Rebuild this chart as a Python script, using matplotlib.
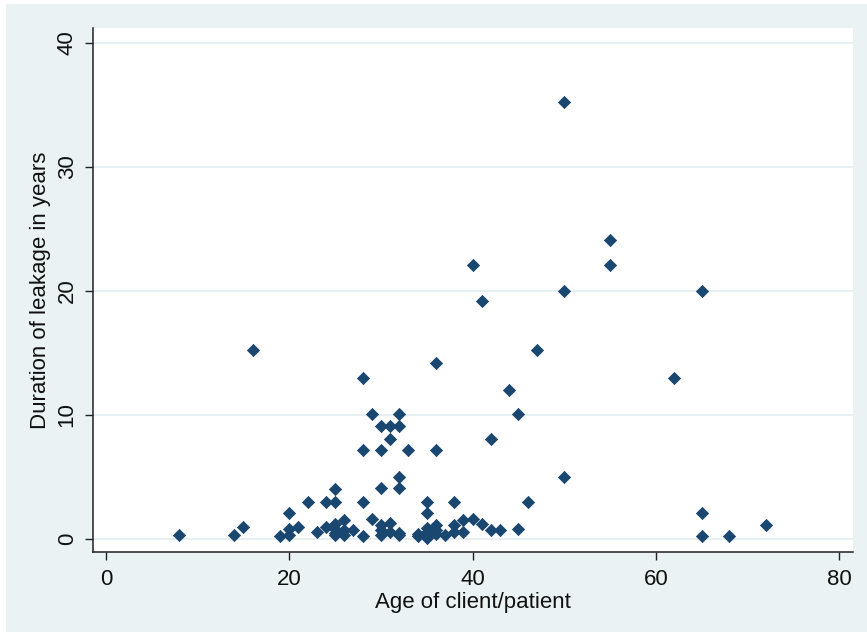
import matplotlib
matplotlib.use("Agg")
import matplotlib.pyplot as plt
from matplotlib.patches import Rectangle

# age of client/patient vs duration of leakage (years)
age = [8, 14, 15, 16, 19, 20, 20, 20, 21, 22, 23, 24, 24,
       25, 25, 25, 25, 25, 25, 26, 26, 26, 27, 28, 28, 28, 28,
       29, 29, 30, 30, 30, 30, 30, 30, 31, 31, 31, 31,
       32, 32, 32, 32, 32, 32, 33, 34, 34, 35, 35, 35, 35, 35, 35,
       36, 36, 36, 36, 36, 37, 38, 38, 38, 39, 39, 40, 40, 41, 41,
       42, 42, 43, 44, 45, 45, 46, 47, 50, 50, 50, 55, 55, 62,
       65, 65, 65, 68, 72]
duration = [0.3, 0.3, 1.0, 15.2, 0.2, 0.3, 0.8, 2.1, 1.0, 3.0, 0.6, 1.0, 3.0,
            0.3, 0.5, 0.8, 1.2, 3.0, 4.0, 0.3, 0.7, 1.5, 0.7, 0.2, 3.0, 7.2, 13.0,
            1.6, 10.1, 0.3, 0.7, 1.1, 4.1, 7.2, 9.1, 0.6, 1.3, 8.1, 9.1,
            0.3, 0.5, 4.1, 5.0, 9.1, 10.1, 7.2, 0.2, 0.4, 0.1, 0.3, 0.6, 0.9, 2.1, 3.0,
            0.4, 0.7, 1.1, 7.2, 14.2, 0.3, 0.6, 1.1, 3.0, 0.6, 1.5, 1.6, 22.1, 1.2, 19.2,
            0.7, 8.1, 0.7, 12.0, 0.8, 10.1, 3.0, 15.2, 5.0, 20.0, 35.2, 22.1, 24.1, 13.0,
            0.2, 2.1, 20.0, 0.2, 1.1]

xticks = [0, 20, 40, 60, 80]
yticks = [0, 10, 20, 30, 40]

plt.rcParams['font.family'] = ['Liberation Sans', 'DejaVu Sans']

fig = plt.figure(figsize=(8.67, 6.32), dpi=100, facecolor='white')
# stata-like graph region, behind the axes
fig.patches.append(Rectangle((6 / 867, 0), 1, 628 / 632, transform=fig.transFigure,
                             facecolor='#eaf2f3', edgecolor='none', zorder=-10))

ax = fig.add_axes([93 / 867, 80 / 632, 760 / 867, 524 / 632])
ax.set_facecolor('white')

ax.scatter(age, duration, marker='D', s=38, color='#1a476f', linewidths=0.6,
           edgecolors='#1a476f', zorder=3, clip_on=False)

ax.set_xlim(-1.42, 81.5)
ax.set_ylim(-1.05, 41.2)
ax.set_xticks(xticks)
ax.set_yticks(yticks)
ax.set_yticklabels([str(v) for v in yticks], rotation=90, va='center')
ax.yaxis.grid(True, color='#e6eef1', linewidth=1.3)
ax.set_axisbelow(True)

for side in ['top', 'right']:
    ax.spines[side].set_visible(False)
for side in ['left', 'bottom']:
    ax.spines[side].set_color('#222222')
    ax.spines[side].set_linewidth(1.1)

ax.tick_params(axis='both', direction='out', length=5.5, width=1.0, color='#222222',
               labelsize=16, labelcolor='#111111')
ax.tick_params(axis='y', pad=5.5)
ax.tick_params(axis='x', pad=7)

ax.set_xlabel('Age of client/patient', fontsize=16, color='#111111', labelpad=1)
ax.set_ylabel('Duration of leakage in years', fontsize=16, color='#111111', labelpad=4)

fig.savefig('out.png', dpi=100, facecolor=fig.get_facecolor())
